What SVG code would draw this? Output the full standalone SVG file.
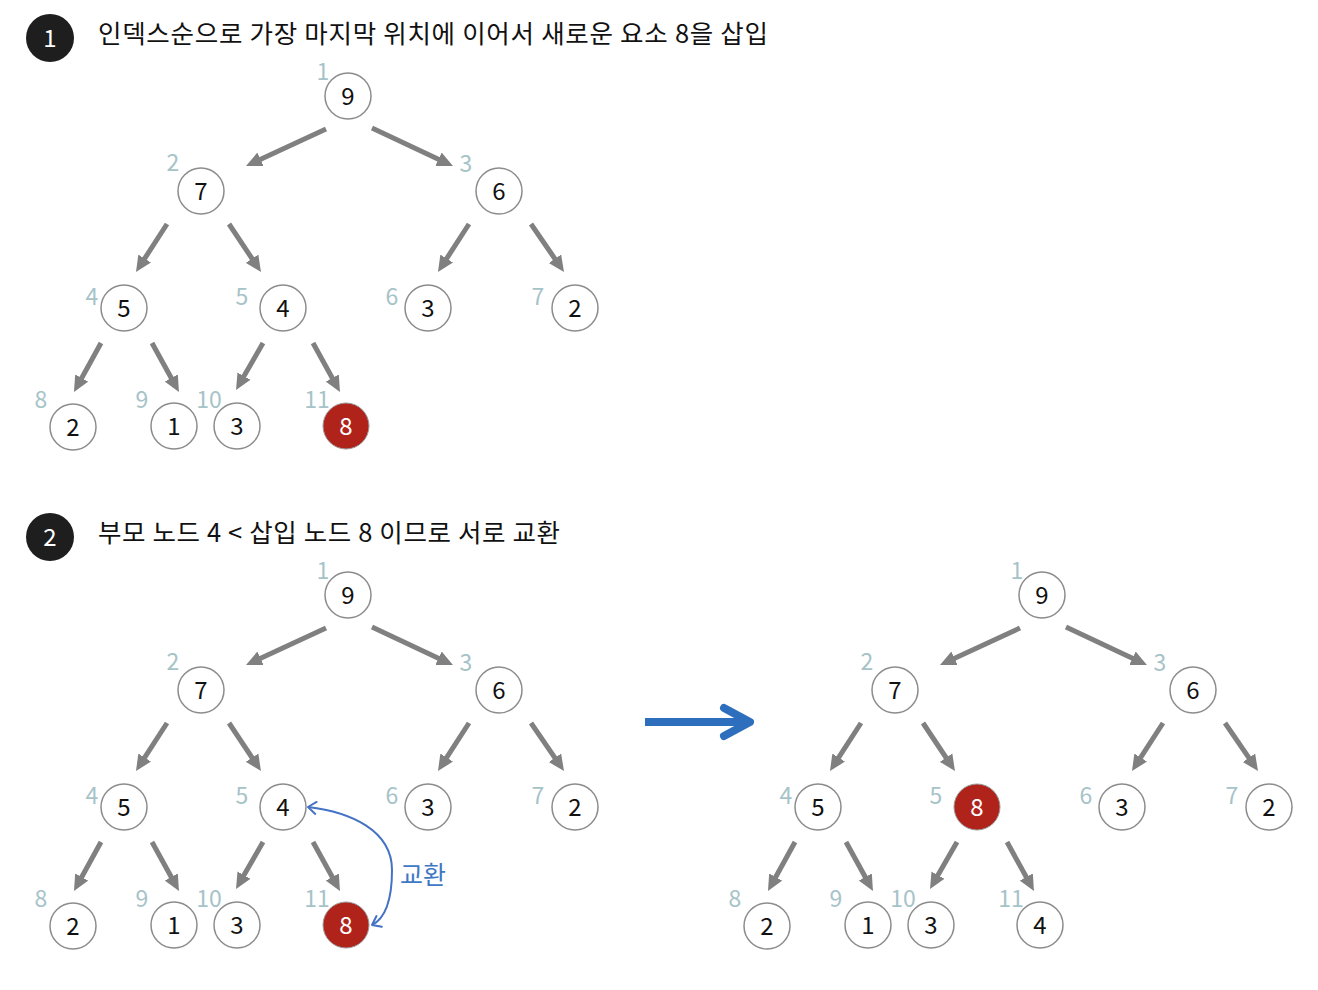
<svg xmlns="http://www.w3.org/2000/svg" width="1318" height="990" viewBox="0 0 1318 990">
<style>
text{font-family:"Noto Sans CJK KR","Liberation Sans",sans-serif}
.nd{fill:#fff;stroke:#8c8c8c;stroke-width:1.5}
.hot{fill:#b0231b;stroke:#9a9a9a;stroke-width:1}
.nt{font-size:24px;fill:#111;text-anchor:middle}
.ht{font-size:24px;fill:#fff;text-anchor:middle}
.ix{font-size:23px;fill:#a6c3c8;text-anchor:middle}
.ed{stroke:#808080;stroke-width:5;fill:none;marker-end:url(#ah)}
.title{font-size:25.5px;fill:#111}
.badge{fill:#1e1e1e}
.bt{font-size:24px;fill:#fff;text-anchor:middle}
</style>
<defs>
<marker id="ah" viewBox="0 0 16 16" refX="4" refY="8" markerWidth="16" markerHeight="16" markerUnits="userSpaceOnUse" orient="auto">
<path d="M0,0.5 L16,8 L0,15.5 z" fill="#808080"/>
</marker>
<marker id="ch" viewBox="0 0 16 16" refX="13" refY="8" markerWidth="16" markerHeight="16" markerUnits="userSpaceOnUse" orient="auto-start-reverse" overflow="visible">
<path d="M5,2 L13,8 L5,14" fill="none" stroke="#4472c4" stroke-width="2" stroke-linecap="round" stroke-linejoin="round"/>
</marker>
</defs>
<rect width="1318" height="990" fill="#fff"/>

<g id="header1">
<circle class="badge" cx="50" cy="38" r="24"/>
<text class="bt" x="50" y="47">1</text>
<text class="title" x="98" y="43" textLength="670" lengthAdjust="spacing">인덱스순으로 가장 마지막 위치에 이어서 새로운 요소 8을 삽입</text>
</g>
<g id="header2">
<circle class="badge" cx="50" cy="537" r="24"/>
<text class="bt" x="50" y="546">2</text>
<text class="title" x="98" y="542" textLength="462" lengthAdjust="spacing">부모 노드 4 &lt; 삽입 노드 8 이므로 서로 교환</text>
</g>

<!-- Tree 1 -->
<g id="tree1">
<g id="t1-edges">
<line class="ed" x1="326" y1="129" x2="256.9" y2="161"/>
<line class="ed" x1="372" y1="128" x2="442.1" y2="160.9"/>
<line class="ed" x1="167" y1="224" x2="142.5" y2="261.9"/>
<line class="ed" x1="229" y1="224" x2="254.3" y2="262"/>
<line class="ed" x1="469" y1="224" x2="444.5" y2="261.9"/>
<line class="ed" x1="531" y1="224" x2="557.2" y2="262.1"/>
<line class="ed" x1="101" y1="343" x2="79.8" y2="381.5"/>
<line class="ed" x1="152" y1="343" x2="173.2" y2="381.5"/>
<line class="ed" x1="263" y1="343" x2="242" y2="379.6"/>
<line class="ed" x1="313" y1="343" x2="334.2" y2="381.5"/>
</g>
<g id="t1-n1"><circle class="nd" cx="348" cy="96" r="23"/><text class="nt" x="348" y="105">9</text><text class="ix" x="323" y="80">1</text></g>
<g id="t1-n2"><circle class="nd" cx="201" cy="191" r="23"/><text class="nt" x="201" y="200">7</text><text class="ix" x="173" y="171">2</text></g>
<g id="t1-n3"><circle class="nd" cx="499" cy="191" r="23"/><text class="nt" x="499" y="200">6</text><text class="ix" x="466" y="172">3</text></g>
<g id="t1-n4"><circle class="nd" cx="124" cy="308" r="23"/><text class="nt" x="124" y="317">5</text><text class="ix" x="92" y="305">4</text></g>
<g id="t1-n5"><circle class="nd" cx="283" cy="308" r="23"/><text class="nt" x="283" y="317">4</text><text class="ix" x="242" y="305">5</text></g>
<g id="t1-n6"><circle class="nd" cx="428" cy="308" r="23"/><text class="nt" x="428" y="317">3</text><text class="ix" x="392" y="305">6</text></g>
<g id="t1-n7"><circle class="nd" cx="575" cy="308" r="23"/><text class="nt" x="575" y="317">2</text><text class="ix" x="538" y="305">7</text></g>
<g id="t1-n8"><circle class="nd" cx="73" cy="427" r="23"/><text class="nt" x="73" y="436">2</text><text class="ix" x="41" y="408">8</text></g>
<g id="t1-n9"><circle class="nd" cx="174" cy="426" r="23"/><text class="nt" x="174" y="435">1</text><text class="ix" x="142" y="408">9</text></g>
<g id="t1-n10"><circle class="nd" cx="237" cy="426" r="23"/><text class="nt" x="237" y="435">3</text><text class="ix" x="209" y="408">10</text></g>
<g id="t1-n11"><circle class="hot" cx="346" cy="426" r="23"/><text class="ht" x="346" y="435">8</text><text class="ix" x="317" y="408">11</text></g>
</g>

<!-- Tree 2 -->
<g id="tree2" transform="translate(0,499)">
<g id="t2-edges">
<line class="ed" x1="326" y1="129" x2="256.9" y2="161"/>
<line class="ed" x1="372" y1="128" x2="442.1" y2="160.9"/>
<line class="ed" x1="167" y1="224" x2="142.5" y2="261.9"/>
<line class="ed" x1="229" y1="224" x2="254.3" y2="262"/>
<line class="ed" x1="469" y1="224" x2="444.5" y2="261.9"/>
<line class="ed" x1="531" y1="224" x2="557.2" y2="262.1"/>
<line class="ed" x1="101" y1="343" x2="79.8" y2="381.5"/>
<line class="ed" x1="152" y1="343" x2="173.2" y2="381.5"/>
<line class="ed" x1="263" y1="343" x2="242" y2="379.6"/>
<line class="ed" x1="313" y1="343" x2="334.2" y2="381.5"/>
</g>
<g id="t2-n1"><circle class="nd" cx="348" cy="96" r="23"/><text class="nt" x="348" y="105">9</text><text class="ix" x="323" y="80">1</text></g>
<g id="t2-n2"><circle class="nd" cx="201" cy="191" r="23"/><text class="nt" x="201" y="200">7</text><text class="ix" x="173" y="171">2</text></g>
<g id="t2-n3"><circle class="nd" cx="499" cy="191" r="23"/><text class="nt" x="499" y="200">6</text><text class="ix" x="466" y="172">3</text></g>
<g id="t2-n4"><circle class="nd" cx="124" cy="308" r="23"/><text class="nt" x="124" y="317">5</text><text class="ix" x="92" y="305">4</text></g>
<g id="t2-n5"><circle class="nd" cx="283" cy="308" r="23"/><text class="nt" x="283" y="317">4</text><text class="ix" x="242" y="305">5</text></g>
<g id="t2-n6"><circle class="nd" cx="428" cy="308" r="23"/><text class="nt" x="428" y="317">3</text><text class="ix" x="392" y="305">6</text></g>
<g id="t2-n7"><circle class="nd" cx="575" cy="308" r="23"/><text class="nt" x="575" y="317">2</text><text class="ix" x="538" y="305">7</text></g>
<g id="t2-n8"><circle class="nd" cx="73" cy="427" r="23"/><text class="nt" x="73" y="436">2</text><text class="ix" x="41" y="408">8</text></g>
<g id="t2-n9"><circle class="nd" cx="174" cy="426" r="23"/><text class="nt" x="174" y="435">1</text><text class="ix" x="142" y="408">9</text></g>
<g id="t2-n10"><circle class="nd" cx="237" cy="426" r="23"/><text class="nt" x="237" y="435">3</text><text class="ix" x="209" y="408">10</text></g>
<g id="t2-n11"><circle class="hot" cx="346" cy="426" r="23"/><text class="ht" x="346" y="435">8</text><text class="ix" x="317" y="408">11</text></g>
<g id="swap">
<path d="M308,308 C350,313 392,331 392,371 C392,401 386,419 372,426" fill="none" stroke="#4472c4" stroke-width="2" marker-start="url(#ch)" marker-end="url(#ch)"/>
<text x="400" y="385" font-size="25" fill="#3f78c4">교환</text>
</g>
</g>

<g id="bigarrow">
<line x1="645" y1="722" x2="748" y2="722" stroke="#2e6fbd" stroke-width="8"/>
<path d="M724,708 L750,722 L724,736" fill="none" stroke="#2e6fbd" stroke-width="8" stroke-linecap="round" stroke-linejoin="round"/>
</g>

<!-- Tree 3 -->
<g id="tree3" transform="translate(694,499)">
<g id="t3-edges">
<line class="ed" x1="326" y1="129" x2="256.9" y2="161"/>
<line class="ed" x1="372" y1="128" x2="442.1" y2="160.9"/>
<line class="ed" x1="167" y1="224" x2="142.5" y2="261.9"/>
<line class="ed" x1="229" y1="224" x2="254.3" y2="262"/>
<line class="ed" x1="469" y1="224" x2="444.5" y2="261.9"/>
<line class="ed" x1="531" y1="224" x2="557.2" y2="262.1"/>
<line class="ed" x1="101" y1="343" x2="79.8" y2="381.5"/>
<line class="ed" x1="152" y1="343" x2="173.2" y2="381.5"/>
<line class="ed" x1="263" y1="343" x2="242" y2="379.6"/>
<line class="ed" x1="313" y1="343" x2="334.2" y2="381.5"/>
</g>
<g id="t3-n1"><circle class="nd" cx="348" cy="96" r="23"/><text class="nt" x="348" y="105">9</text><text class="ix" x="323" y="80">1</text></g>
<g id="t3-n2"><circle class="nd" cx="201" cy="191" r="23"/><text class="nt" x="201" y="200">7</text><text class="ix" x="173" y="171">2</text></g>
<g id="t3-n3"><circle class="nd" cx="499" cy="191" r="23"/><text class="nt" x="499" y="200">6</text><text class="ix" x="466" y="172">3</text></g>
<g id="t3-n4"><circle class="nd" cx="124" cy="308" r="23"/><text class="nt" x="124" y="317">5</text><text class="ix" x="92" y="305">4</text></g>
<g id="t3-n5"><circle class="hot" cx="283" cy="308" r="23"/><text class="ht" x="283" y="317">8</text><text class="ix" x="242" y="305">5</text></g>
<g id="t3-n6"><circle class="nd" cx="428" cy="308" r="23"/><text class="nt" x="428" y="317">3</text><text class="ix" x="392" y="305">6</text></g>
<g id="t3-n7"><circle class="nd" cx="575" cy="308" r="23"/><text class="nt" x="575" y="317">2</text><text class="ix" x="538" y="305">7</text></g>
<g id="t3-n8"><circle class="nd" cx="73" cy="427" r="23"/><text class="nt" x="73" y="436">2</text><text class="ix" x="41" y="408">8</text></g>
<g id="t3-n9"><circle class="nd" cx="174" cy="426" r="23"/><text class="nt" x="174" y="435">1</text><text class="ix" x="142" y="408">9</text></g>
<g id="t3-n10"><circle class="nd" cx="237" cy="426" r="23"/><text class="nt" x="237" y="435">3</text><text class="ix" x="209" y="408">10</text></g>
<g id="t3-n11"><circle class="nd" cx="346" cy="426" r="23"/><text class="nt" x="346" y="435">4</text><text class="ix" x="317" y="408">11</text></g>
</g>
</svg>
